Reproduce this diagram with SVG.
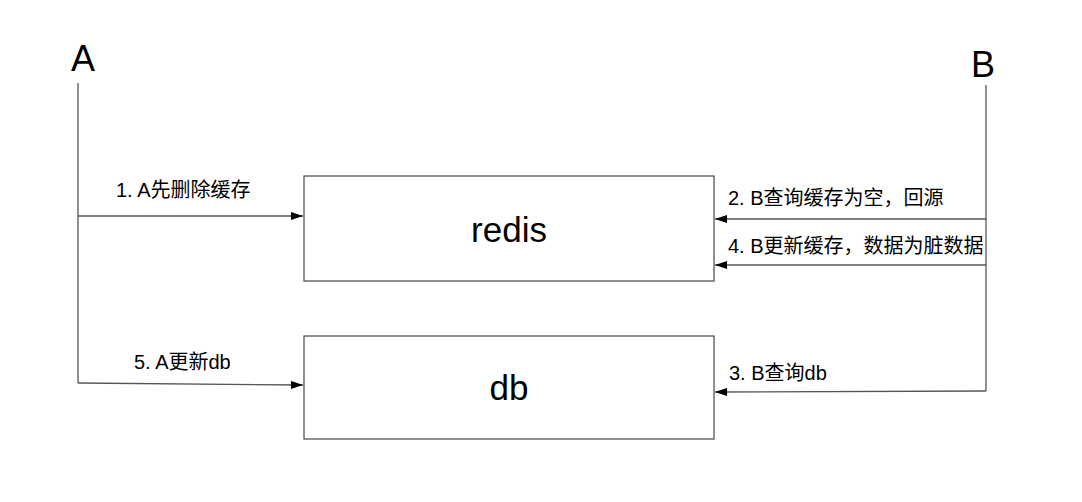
<svg xmlns="http://www.w3.org/2000/svg" width="1082" height="502" viewBox="0 0 1082 502">
<style>
.ln{stroke:#555;stroke-width:1.3;fill:none}
.box{stroke:#555;stroke-width:1.3;fill:#fff}
.lbl{font-family:"Liberation Sans","Noto Sans CJK SC",sans-serif;font-size:20px;fill:#000}
.big{font-family:"Liberation Sans","Noto Sans CJK SC",sans-serif;font-size:35px;fill:#000}
.actor{font-family:"Liberation Sans","Noto Sans CJK SC",sans-serif;font-size:36px;fill:#000}
</style>
<defs>
<marker id="arr" markerWidth="12" markerHeight="8" refX="12" refY="4" orient="auto" markerUnits="userSpaceOnUse">
<path d="M0,0 L12,4 L0,8 Z" fill="#000"/>
</marker>
</defs>
<rect width="1082" height="502" fill="#fff"/>
<g id="actorA">
<text class="actor" x="83" y="71" text-anchor="middle">A</text>
</g>
<g id="actorB">
<text class="actor" x="983" y="77" text-anchor="middle">B</text>
</g>
<g id="redis">
<rect class="box" x="304" y="176" width="410" height="105"/>
<text class="big" x="509" y="242" text-anchor="middle">redis</text>
</g>
<g id="db">
<rect class="box" x="304" y="336" width="410" height="103"/>
<text class="big" x="509" y="400" text-anchor="middle">db</text>
</g>
<g id="connectors">
<path class="ln" d="M78,83 L78,383"/>
<path class="ln" d="M986,85 L986,391"/>
<path class="ln" d="M78,216 L303,216" marker-end="url(#arr)"/>
<path class="ln" d="M78,383 L303,385" marker-end="url(#arr)"/>
<path class="ln" d="M986,219 L715,219" marker-end="url(#arr)"/>
<path class="ln" d="M986,265 L715,265" marker-end="url(#arr)"/>
<path class="ln" d="M986,391 L715,392" marker-end="url(#arr)"/>
<text class="lbl" x="116" y="197">1. A先删除缓存</text>
<text class="lbl" x="728" y="205">2. B查询缓存为空，回源</text>
<text class="lbl" x="728" y="253">4. B更新缓存，数据为脏数据</text>
<text class="lbl" x="729" y="380">3. B查询db</text>
<text class="lbl" x="134" y="369">5. A更新db</text>
</g>
</svg>
